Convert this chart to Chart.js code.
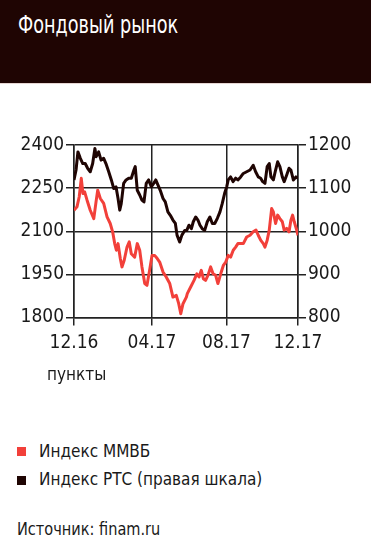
<!DOCTYPE html>
<html>
<head>
  <meta charset="utf-8">
  <title>Фондовый рынок</title>
  <script src="https://cdn.jsdelivr.net/npm/chart.js"></script>
  <style>
    body { margin: 0; width: 371px; height: 551px; background: #fff; position: relative; overflow: hidden;
           font-family: "DejaVu Sans Condensed", sans-serif; color: #1a1a1a; }
    #head { position: absolute; left: 0; top: 0; width: 371px; height: 83px; background: #1f0503;
            border-bottom: 1px solid #e6d6d3; }
    #title { position: absolute; left: 18px; top: 12px; font-size: 25px; line-height: 25px; color: #fff;
             white-space: nowrap; transform: scaleX(0.785); transform-origin: 0 0; }
    .txt { position: absolute; font-size: 17px; line-height: 17px; white-space: nowrap; }
    .sq { position: absolute; width: 9px; height: 9px; }
    #chart { position: absolute; left: 0; top: 120px; }
  </style>
</head>
<body>
<div id="head"><div id="title">Фондовый рынок</div></div>
<canvas id="chart" width="371" height="280"></canvas>
<div class="txt" style="left:47px;top:366px">пункты</div>
<div class="sq" style="left:17px;top:447px;background:#f2403a"></div>
<div class="txt" style="left:39px;top:443px">Индекс ММВБ</div>
<div class="sq" style="left:17px;top:476px;background:#1f0503"></div>
<div class="txt" style="left:39px;top:471px">Индекс РТС (правая шкала)</div>
<div class="txt" style="left:17px;top:521px;transform:scaleX(0.95);transform-origin:0 0">Источник: finam.ru</div>

<script>
// x = months since 12.16
const xTickValues = [0, 4.18, 8.17, 12];
const xTickLabels = ["12.16", "04.17", "08.17", "12.17"];

const mmvbX = [0, 0.16, 0.28, 0.39, 0.48, 0.57, 0.70, 0.87, 1.06, 1.18, 1.27, 1.41, 1.59, 1.77, 1.94,
  2.07, 2.18, 2.27, 2.36, 2.48, 2.57, 2.69, 2.84, 2.96, 3.07, 3.25, 3.39, 3.52, 3.64, 3.79, 3.91,
  4.05, 4.18, 4.32, 4.46, 4.59, 4.77, 4.94, 5.13, 5.30, 5.48, 5.61, 5.72, 5.84, 6.02, 6.07, 6.25,
  6.43, 6.58, 6.70, 6.82, 6.93, 7.05, 7.18, 7.32, 7.45, 7.59, 7.71, 7.86, 8.00, 8.13, 8.26, 8.39,
  8.53, 8.66, 8.78, 8.96, 9.07, 9.25, 9.43, 9.60, 9.75, 9.87, 10.00, 10.14, 10.23, 10.35, 10.46,
  10.59, 10.68, 10.80, 10.91, 11.03, 11.16, 11.26, 11.39, 11.52, 11.62, 11.71, 11.80, 11.93, 12.0];
const mmvbY = [2173, 2185, 2220, 2284, 2231, 2237, 2208, 2173, 2144, 2202, 2243, 2214, 2197, 2150, 2127,
  2098, 2057, 2034, 2057, 2005, 1976, 1999, 2045, 2063, 2022, 2010, 2057, 2034, 1976, 1918, 1912,
  1964, 2016, 2016, 2005, 1993, 1958, 1941, 1918, 1871, 1877, 1848, 1813, 1848, 1871, 1883, 1906,
  1929, 1952, 1941, 1964, 1935, 1929, 1947, 1976, 1952, 1947, 1918, 1952, 1981, 1993, 2016, 2010,
  2034, 2045, 2057, 2057, 2057, 2080, 2086, 2098, 2104, 2086, 2069, 2057, 2045, 2069, 2104,
  2179, 2167, 2127, 2156, 2144, 2133, 2104, 2110, 2098, 2138, 2156, 2133, 2104, 2086];

const rtsX = [0, 0.11, 0.21, 0.34, 0.47, 0.60, 0.73, 0.87, 1.00, 1.12, 1.19, 1.32, 1.45, 1.59, 1.71,
  1.86, 2.00, 2.13, 2.25, 2.36, 2.45, 2.53, 2.66, 2.79, 2.93, 3.07, 3.21, 3.28, 3.39, 3.52, 3.64,
  3.75, 3.87, 4.00, 4.14, 4.27, 4.38, 4.50, 4.62, 4.77, 4.89, 5.03, 5.16, 5.30, 5.43, 5.52, 5.66,
  5.78, 5.93, 6.04, 6.16, 6.29, 6.39, 6.52, 6.64, 6.75, 6.87, 7.00, 7.14, 7.28, 7.41, 7.54, 7.68,
  7.82, 7.94, 8.07, 8.18, 8.26, 8.39, 8.52, 8.66, 8.78, 8.93, 9.07, 9.25, 9.43, 9.60, 9.73, 9.87,
  10.00, 10.11, 10.23, 10.35, 10.46, 10.55, 10.68, 10.80, 10.91, 11.03, 11.16, 11.26, 11.39, 11.52,
  11.62, 11.75, 11.89, 12.0];
const rtsY = [1119, 1142, 1184, 1169, 1157, 1157, 1146, 1138, 1157, 1192, 1173, 1184, 1165, 1169, 1157,
  1138, 1119, 1099, 1103, 1076, 1049, 1064, 1111, 1119, 1123, 1123, 1142, 1150, 1095, 1084, 1072,
  1068, 1111, 1119, 1103, 1111, 1119, 1107, 1095, 1076, 1068, 1045, 1037, 1026, 1018, 991, 975,
  991, 1002, 1002, 1014, 1006, 1022, 1033, 1026, 1014, 1006, 1002, 1022, 1033, 1018, 1018, 1030,
  1045, 1064, 1088, 1103, 1119, 1126, 1115, 1123, 1119, 1126, 1134, 1138, 1142, 1153, 1138, 1126,
  1123, 1115, 1111, 1150, 1157, 1126, 1119, 1142, 1161, 1150, 1126, 1115, 1130, 1146,
  1142, 1119, 1126, 1123];

const tickFont = { family: "'DejaVu Sans Condensed', sans-serif", size: 19 };
const gridColor = "#222";

new Chart(document.getElementById("chart"), {
  type: "line",
  data: {
    datasets: [
      {
        label: "Индекс ММВБ",
        data: mmvbX.map((x, i) => ({ x: x, y: mmvbY[i] })),
        borderColor: "#f2403a",
        borderWidth: 3,
        yAxisID: "y"
      },
      {
        label: "Индекс РТС (правая шкала)",
        data: rtsX.map((x, i) => ({ x: x, y: rtsY[i] })),
        borderColor: "#1f0503",
        borderWidth: 3,
        yAxisID: "y2"
      }
    ]
  },
  options: {
    responsive: false,
    animation: false,
    layout: { padding: { top: 25, left: 0, right: 0, bottom: 0 } },
    elements: { point: { radius: 0 }, line: { tension: 0, borderJoinStyle: "round" } },
    plugins: { legend: { display: false }, tooltip: { enabled: false } },
    scales: {
      x: {
        type: "linear",
        min: 0, max: 12,
        afterBuildTicks: s => { s.ticks = xTickValues.map(v => ({ value: v })); },
        afterFit: s => { s.height = 82.5; },
        ticks: { font: tickFont, color: "#1a1a1a", padding: 6, maxRotation: 0,
                 callback: (v, i) => xTickLabels[i] },
        grid: { color: gridColor, lineWidth: 1.5, tickLength: 8 },
        border: { color: gridColor, width: 1.5 }
      },
      y: {
        position: "left",
        min: 1800, max: 2400,
        afterFit: s => { s.width = 74; },
        ticks: { stepSize: 150, font: tickFont, color: "#1a1a1a", padding: 2, callback: v => String(v) },
        grid: { color: gridColor, lineWidth: 1.5, tickLength: 8 },
        border: { color: gridColor, width: 1.5 }
      },
      y2: {
        position: "right",
        min: 800, max: 1200,
        afterFit: s => { s.width = 73; },
        ticks: { stepSize: 100, font: tickFont, color: "#1a1a1a", padding: 2, callback: v => String(v) },
        grid: { drawOnChartArea: false, color: gridColor, lineWidth: 1.5, tickLength: 8 },
        border: { color: gridColor, width: 1.5 }
      }
    }
  }
});
</script>
</body>
</html>
